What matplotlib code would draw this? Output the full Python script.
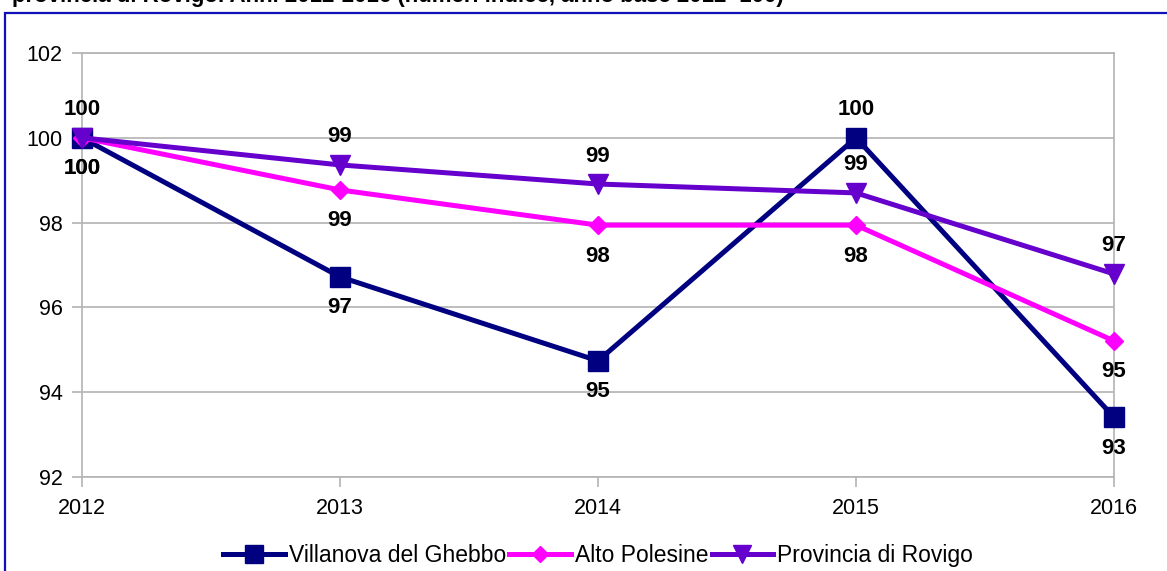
import matplotlib.pyplot as plt
from matplotlib.patches import Rectangle

plt.rcParams['font.family'] = ['Liberation Sans', 'DejaVu Sans']

# dati (numeri indice, 2012 = 100)
anni = [2012, 2013, 2014, 2015, 2016]
villanova = [100.0, 96.72, 94.74, 100.0, 93.41]
alto_polesine = [100.0, 98.77, 97.94, 97.94, 95.21]
provincia = [100.0, 99.36, 98.91, 98.70, 96.79]
y_ticks = [92, 94, 96, 98, 100, 102]

fig = plt.figure(figsize=(11.67, 5.71), dpi=100)
ax = fig.add_axes([82 / 1167, 1 - 477 / 571, (1114 - 82) / 1167, (477 - 53) / 571])

# cornice blu del grafico
fig.patches.append(Rectangle((5 / 1167, -0.05), 1.1, 1 - 13 / 571 + 0.05,
                             transform=fig.transFigure, fill=False,
                             edgecolor='#1010b8', linewidth=1.6, zorder=0))

# titolo tagliato in alto
fig.text(12 / 1167, 1 - 2 / 571, 'provincia di Rovigo. Anni 2012-2016 (numeri indice, anno base 2012=100)',
         fontsize=16, fontweight='bold', va='baseline', ha='left')

serie = [
    ('Villanova del Ghebbo', villanova, '#000080', 's', 14, 'below'),
    ('Alto Polesine', alto_polesine, '#ff00ff', 'D', 9, 'below'),
    ('Provincia di Rovigo', provincia, '#6600cc', 'v', 14, 'above'),
]

for nome, valori, colore, marker, ms, pos in serie:
    ax.plot(anni, valori, color=colore, linewidth=3.6, marker=marker,
            markersize=ms, label=nome, clip_on=False, zorder=3)
    for i, (a, v) in enumerate(zip(anni, valori)):
        dove = pos
        if nome == 'Villanova del Ghebbo' and a == 2015:
            dove = 'above'
        dy = -31 if dove == 'below' else 28
        ax.annotate(f'{v:.0f}', (a, v), xytext=(0, dy), textcoords='offset pixels',
                    ha='center', va='center', fontsize=16, fontweight='bold')

ax.set_xlim(2012, 2016)
ax.set_ylim(92, 102)
ax.set_xticks(anni)
ax.set_yticks(y_ticks)
ax.tick_params(axis='both', colors='#b3b3b3', labelcolor='black', labelsize=15.5,
               length=7, width=1.2, direction='out')
ax.tick_params(axis='x', pad=8)
ax.tick_params(axis='y', pad=7)
ax.grid(axis='y', color='#b3b3b3', linewidth=1.2)
ax.set_axisbelow(True)
for s in ax.spines.values():
    s.set_color('#b3b3b3')
    s.set_linewidth(1.2)

ax.legend(loc='lower center', bbox_to_anchor=(0.5, -0.262), ncol=3, frameon=False,
          fontsize=16.5, handlelength=2.7, handletextpad=0.15, columnspacing=0.15,
          markerscale=0.95)

fig.savefig('out.png', dpi=100)
